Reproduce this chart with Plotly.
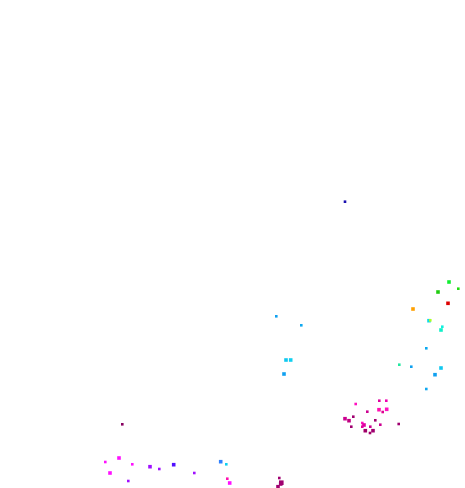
"""
Sparse scatter of small coloured points on a blank canvas
"""

import plotly.graph_objects as go

# point positions (x from left, y from top)
xs = [345, 449, 458.3, 438, 448, 413, 429, 430.3, 442.3, 441,
      426.3, 399.3, 411.3, 441, 435, 426.3,
      276.3, 301.3, 286, 290.7, 284,
      355.7, 379.3, 386.3, 367.3, 379, 382.7, 386.7, 353.3, 345, 349,
      375.3, 362.3, 364, 380.3, 398.7, 351.3, 362.3, 370.3, 365.3, 373, 370,
      279.3, 281.3, 280.7, 278,
      122.3, 119, 105.3, 132.3, 150, 159.3, 173.7, 110, 194.3, 128.3,
      220.7, 226.3, 227.3, 229.7]
ys = [201.7, 282, 288.7, 292, 303.3, 309, 320.7, 320.3, 326.7, 330,
      348.3, 364.7, 366.7, 368, 374.7, 389,
      316.3, 325.3, 360, 360, 374,
      404, 400.7, 400.7, 411.7, 409.7, 412, 409.3, 416.7, 418.7, 420.7,
      420.3, 423, 425, 424.7, 424, 426.7, 426.7, 426.7, 430.7, 430.7, 433,
      478, 482.7, 484, 486.7,
      424.3, 458, 462, 464.3, 466.7, 469, 464.7, 473, 473, 481,
      461.7, 464.3, 478.7, 483]
colors = ['#1a10b0', '#10ee30', '#20dd10', '#20cc10', '#dd0000', '#ffa000', '#10d8e8', '#b0ff20', '#10f0e0', '#10f0c8',
          '#0aa8f0', '#20e8a0', '#10a0f0', '#10c8f0', '#10a0f0', '#10a8f0',
          '#10a0f0', '#10a8f0', '#10c8f0', '#10d0f0', '#10a0f0',
          '#ff10c0', '#e000a0', '#f000b0', '#cc0090', '#ff10b0', '#dd0090', '#ff10c0', '#a00070', '#cc0090', '#c00080',
          '#a00070', '#ff10c0', '#e000a0', '#cc0090', '#a00070', '#a00070', '#e000a0', '#cc0090', '#a00068', '#a00070', '#a00068',
          '#a00070', '#a00070', '#a00070', '#a00070',
          '#880060', '#ff10ff', '#ff10ff', '#ff10ff', '#a010ff', '#a010ff', '#5010ff', '#ff10ff', '#a010ff', '#a010ff',
          '#3080ff', '#10d0f0', '#ff10b0', '#ff10ff']
sizes = [2, 3, 2, 3, 3, 3, 3, 2, 2, 3,
         2, 2, 2, 3, 3, 2,
         2, 2, 3, 3, 3,
         2, 2, 2, 2, 3, 2, 3, 2, 3, 3,
         2, 2, 3, 2, 2, 2, 2, 2, 3, 3, 2,
         2, 4, 3, 3,
         2, 3, 2, 2, 3, 2, 3, 3, 2, 2,
         3, 2, 2, 3]

fig = go.Figure()
fig.add_trace(go.Scatter(
    x=xs, y=ys, mode='markers',
    marker=dict(symbol='square', size=[s + 0.6 for s in sizes], color=colors,
                opacity=1, line=dict(width=0)),
    hoverinfo='skip', showlegend=False,
))

fig.update_layout(
    width=465, height=488,
    margin=dict(l=0, r=0, t=0, b=0),
    paper_bgcolor='white', plot_bgcolor='white',
    xaxis=dict(range=[0, 465], visible=False, fixedrange=True),
    yaxis=dict(range=[488, 0], visible=False, fixedrange=True),
)

fig.write_html("out.html", config={'displayModeBar': False},
               post_script="document.body.style.margin='0';document.body.style.overflow='hidden';")
